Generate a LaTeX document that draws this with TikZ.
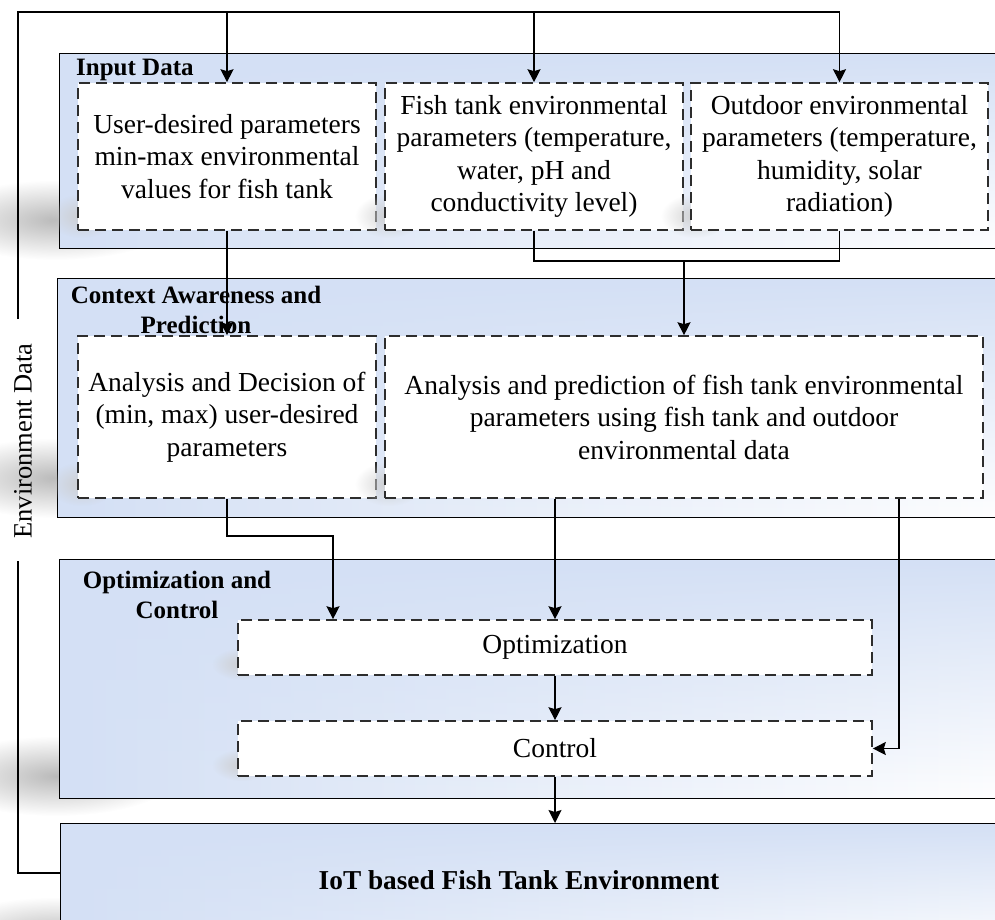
\documentclass[tikz,border=0pt]{standalone}
\usepackage{fontspec}
\setmainfont{Liberation Serif}
\usetikzlibrary{arrows.meta,calc,fadings}

\definecolor{panelblue}{RGB}{212,224,245}
\definecolor{dashgray}{RGB}{45,45,45}

% soft radial fading used for the drop shadows
\tikzfading[name=softfade, inner color=transparent!10, outer color=transparent!100]
% vertical fading: opaque at the top, clear at the bottom
\tikzfading[name=topfade, top color=transparent!0, bottom color=transparent!100]

\newcommand{\dgbody}{\fontsize{27.5pt}{32.5pt}\selectfont}
\newcommand{\dgtitle}{\fontsize{25pt}{30pt}\selectfont\bfseries}
\newcommand{\dgiot}{\fontsize{27.3pt}{32pt}\selectfont\bfseries}
\newcommand{\dgenv}{\fontsize{26.5pt}{30pt}\selectfont}

\begin{document}
\begin{tikzpicture}[x=1pt, y=-1pt,
  panel/.style={draw=black, line width=1.3pt, left color=panelblue, right color=white,
    inner sep=0pt, anchor=north west,
    path picture={\fill[panelblue, path fading=topfade]
      (path picture bounding box.north west) rectangle (path picture bounding box.south east);}},
  stepbox/.style={draw=dashgray, dash pattern=on 11pt off 6pt, line width=1.6pt,
    fill=white, align=center, inner sep=0pt, font=\dgbody},
  titletext/.style={font=\dgtitle, align=center, inner sep=0pt},
  conn/.style={draw=black, line width=1.3pt},
  arrow/.style={conn, -{Stealth[length=13pt, width=13pt, inset=2pt]}},
  panelshadow/.style={fill=black!30, path fading=softfade},
  boxshadow/.style={fill=black!20, path fading=softfade},
]
\useasboundingbox (0,0) rectangle (995,920);
\clip (0,0) rectangle (995,920);

% ---- layer panels with their shadows ----
\fill[panelshadow] (56,220) ellipse (120 and 40);
\node[panel, minimum width=956pt, minimum height=195pt] (pin) at (59,53) {};
\fill[panelshadow] (56,478) ellipse (120 and 40);
\node[panel, minimum width=958pt, minimum height=239pt] (pctx) at (57,278) {};
\fill[panelshadow] (56,776) ellipse (120 and 40);
\node[panel, minimum width=956pt, minimum height=239pt] (popt) at (59,559) {};
\fill[panelshadow] (56,937) ellipse (120 and 40);
\node[panel, minimum width=955pt, minimum height=130pt] (piot) at (60,823) {};

% ---- panel titles ----
\node[titletext, anchor=base west] (tin) at (76,76) {Input Data};
\node[titletext] (tctx) at (196,310) {Context Awareness and\\Prediction};
\node[titletext] (topt) at (177,595) {Optimization and\\Control};
\node[font=\dgiot, inner sep=0pt, anchor=base] (tiot) at (519,889) {IoT based Fish Tank Environment};

% ---- input data ----
\fill[boxshadow] (82,216) ellipse (34 and 22);
\node[stepbox, minimum width=298pt, minimum height=147pt] (in1) at (227,156.5)
  {User-desired parameters\\min-max environmental\\values for fish tank};
\fill[boxshadow] (389,216) ellipse (34 and 22);
\node[stepbox, minimum width=298pt, minimum height=147pt] (in2) at (534,156.5)
  {Fish tank environmental\\parameters (temperature,\\water, pH and\\conductivity level)};
\fill[boxshadow] (695,216) ellipse (34 and 22);
\node[stepbox, minimum width=297pt, minimum height=147pt] (in3) at (839.5,156.5)
  {Outdoor environmental\\parameters (temperature,\\humidity, solar\\radiation)};

% ---- context awareness and prediction ----
\fill[boxshadow] (82,484) ellipse (34 and 22);
\node[stepbox, minimum width=298pt, minimum height=162pt] (ctx1) at (227,417)
  {Analysis and Decision of\\(min, max) user-desired\\parameters};
\fill[boxshadow] (389,484) ellipse (34 and 22);
\node[stepbox, minimum width=598pt, minimum height=162pt] (ctx2) at (684,417)
  {Analysis and prediction of fish tank environmental\\parameters using fish tank and outdoor\\environmental data};

% ---- optimization and control ----
\fill[boxshadow] (242,664) ellipse (30 and 16);
\node[stepbox, minimum width=634pt, minimum height=55pt] (opt) at (555,647.5) {Optimization};
\fill[boxshadow] (242,765) ellipse (30 and 16);
\node[stepbox, minimum width=634pt, minimum height=55pt] (ctl) at (555,748.5) {Control};

% ---- environment data feedback ----
\node[rotate=90, font=\dgenv, inner sep=0pt] (envlbl) at (23,441) {Environment Data};
\coordinate (corner) at (18,12);
\coordinate (envtop) at (18,319);
\coordinate (envbot) at (18,561);
\coordinate (fbrow) at (0,873);
\draw[conn] (piot.west |- fbrow) -- (fbrow -| corner) -- (envbot);
\draw[arrow] (envtop) -- (corner) -| (in3.north);
\draw[arrow] (in1.north |- corner) -- (in1.north);
\draw[arrow] (in2.north |- corner) -- (in2.north);

% ---- data flow between layers ----
\coordinate (mrg) at (684,261);
\coordinate (j1) at (333,536);
\coordinate (j2) at (899,0);
\draw[arrow] (in1.south) -- (ctx1.north);
\draw[conn] (in2.south) |- (mrg) -| (in3.south);
\draw[arrow] (mrg) -- (ctx2.north);
\draw[arrow] (ctx1.south) |- (j1) -- (j1 |- opt.north);
\draw[arrow] (opt.north |- ctx2.south) -- (opt.north);
\draw[arrow] (j2 |- ctx2.south) |- (ctl.east);
\draw[arrow] (opt.south) -- (ctl.north);
\draw[arrow] (ctl.south) -- (ctl.south |- piot.north);
\end{tikzpicture}
\end{document}
